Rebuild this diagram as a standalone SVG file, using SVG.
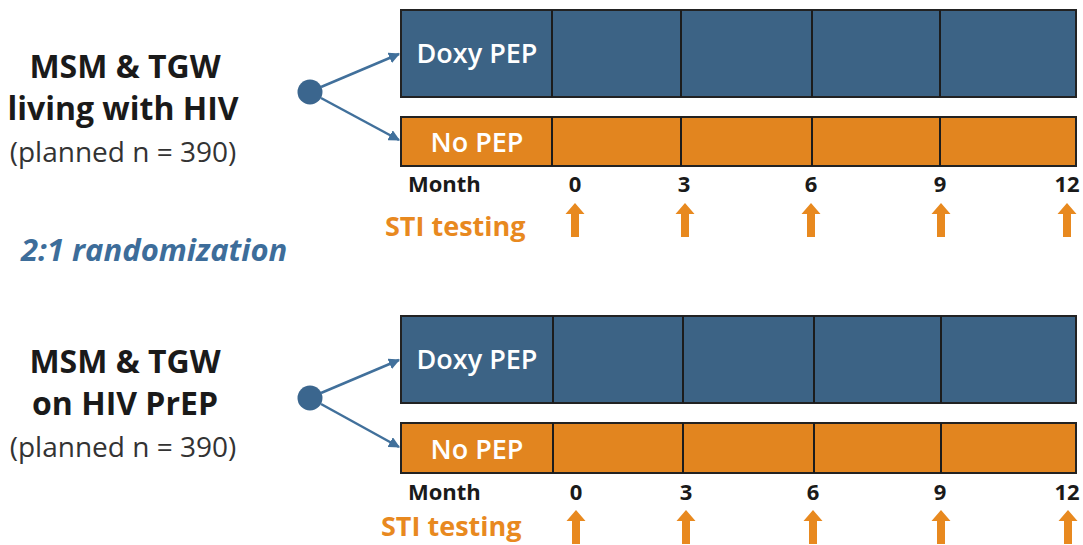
<svg xmlns="http://www.w3.org/2000/svg" width="1083" height="545" viewBox="0 0 1083 545">
  <style>
    .cohort { font-family: "Open Sans", "Liberation Sans", sans-serif; font-weight: 700; font-size: 32px; fill: #1a1a1a; text-anchor: middle; }
    .planned { font-family: "Open Sans", "Liberation Sans", sans-serif; font-weight: 400; font-size: 28px; fill: #333333; text-anchor: middle; }
    .rand { font-family: "Open Sans", "Liberation Sans", sans-serif; font-weight: 700; font-style: italic; font-size: 31px; fill: #3d6d9a; }
    .barlabel { font-family: "Open Sans", "Liberation Sans", sans-serif; font-weight: 600; font-size: 27px; fill: #ffffff; text-anchor: middle; }
    .month { font-family: "Open Sans", "Liberation Sans", sans-serif; font-weight: 700; font-size: 22px; fill: #1a1a1a; }
    .tick { font-family: "Open Sans", "Liberation Sans", sans-serif; font-weight: 700; font-size: 22px; fill: #1a1a1a; text-anchor: middle; }
    .sti { font-family: "Open Sans", "Liberation Sans", sans-serif; font-weight: 700; font-size: 27px; fill: #e8891f; }
    .doxy { fill: #3c6385; stroke: #222222; stroke-width: 2; }
    .nopep { fill: #e2851f; stroke: #222222; stroke-width: 2; }
    .divider { stroke: #1c1c1c; stroke-width: 2; }
    .branch { stroke: #41709b; stroke-width: 2.5; fill: none; marker-end: url(#head); }
    .hub { fill: #3b668e; }
    .test { fill: #e8891f; }
  </style>
  <defs>
    <marker id="head" viewBox="0 0 10 10" refX="9" refY="5" markerWidth="4.5" markerHeight="4.5" orient="auto" markerUnits="strokeWidth">
      <path d="M0,0 L10,5 L0,10 Z" fill="#41709b"/>
    </marker>
    <!-- block arrow marking a testing visit, tip at the origin -->
    <path id="up" d="M0,0 L9.5,11 L4,11 L4,34 L-4,34 L-4,11 L-9.5,11 Z"/>
  </defs>

  <!-- cohort: people living with HIV -->
  <g id="cohort-hiv">
    <text class="cohort" x="125" y="78">MSM &amp; TGW</text>
    <text class="cohort" x="123" y="120">living with HIV</text>
    <text class="planned" x="123" y="162">(planned n = 390)</text>
  </g>
  <g id="hub-hiv"><circle class="hub" cx="310" cy="92" r="12.5"/></g>

  <g id="arm-hiv-doxy">
    <rect class="doxy" x="401" y="10" width="675" height="87"/>
    <line class="divider" x1="552" y1="10" x2="552" y2="97"/>
    <line class="divider" x1="681" y1="10" x2="681" y2="97"/>
    <line class="divider" x1="812" y1="10" x2="812" y2="97"/>
    <line class="divider" x1="940" y1="10" x2="940" y2="97"/>
    <text class="barlabel" x="477" y="63">Doxy PEP</text>
  </g>
  <g id="arm-hiv-nopep">
    <rect class="nopep" x="401" y="117" width="675" height="49"/>
    <line class="divider" x1="552" y1="117" x2="552" y2="166"/>
    <line class="divider" x1="681" y1="117" x2="681" y2="166"/>
    <line class="divider" x1="812" y1="117" x2="812" y2="166"/>
    <line class="divider" x1="940" y1="117" x2="940" y2="166"/>
    <text class="barlabel" x="477" y="152">No PEP</text>
  </g>
  <g id="timeline-hiv">
    <text class="month" x="408" y="192">Month</text>
    <text class="tick" x="575" y="192">0</text>
    <text class="tick" x="684" y="192">3</text>
    <text class="tick" x="811" y="192">6</text>
    <text class="tick" x="940" y="192">9</text>
    <text class="tick" x="1067" y="192">12</text>
    <text class="sti" x="385" y="236">STI testing</text>
    <use href="#up" class="test" x="575" y="203"/>
    <use href="#up" class="test" x="685" y="203"/>
    <use href="#up" class="test" x="811" y="203"/>
    <use href="#up" class="test" x="941" y="203"/>
    <use href="#up" class="test" x="1067" y="203"/>
  </g>

  <g id="randomization">
    <text class="rand" x="21" y="261">2:1 randomization</text>
  </g>

  <!-- cohort: people on PrEP -->
  <g id="cohort-prep">
    <text class="cohort" x="125" y="373">MSM &amp; TGW</text>
    <text class="cohort" x="125" y="415">on HIV PrEP</text>
    <text class="planned" x="123" y="457">(planned n = 390)</text>
  </g>
  <g id="hub-prep"><circle class="hub" cx="310" cy="398" r="12.5"/></g>

  <g id="arm-prep-doxy">
    <rect class="doxy" x="401" y="316" width="675" height="87"/>
    <line class="divider" x1="553" y1="316" x2="553" y2="403"/>
    <line class="divider" x1="683" y1="316" x2="683" y2="403"/>
    <line class="divider" x1="814" y1="316" x2="814" y2="403"/>
    <line class="divider" x1="941" y1="316" x2="941" y2="403"/>
    <text class="barlabel" x="477" y="369">Doxy PEP</text>
  </g>
  <g id="arm-prep-nopep">
    <rect class="nopep" x="401" y="423" width="675" height="50"/>
    <line class="divider" x1="553" y1="423" x2="553" y2="473"/>
    <line class="divider" x1="683" y1="423" x2="683" y2="473"/>
    <line class="divider" x1="814" y1="423" x2="814" y2="473"/>
    <line class="divider" x1="941" y1="423" x2="941" y2="473"/>
    <text class="barlabel" x="477" y="459">No PEP</text>
  </g>
  <g id="timeline-prep">
    <text class="month" x="408" y="500">Month</text>
    <text class="tick" x="576" y="500">0</text>
    <text class="tick" x="686" y="500">3</text>
    <text class="tick" x="813" y="500">6</text>
    <text class="tick" x="940" y="500">9</text>
    <text class="tick" x="1067" y="500">12</text>
    <text class="sti" x="381" y="536">STI testing</text>
    <use href="#up" class="test" x="576" y="510"/>
    <use href="#up" class="test" x="686" y="510"/>
    <use href="#up" class="test" x="813" y="510"/>
    <use href="#up" class="test" x="941" y="510"/>
    <use href="#up" class="test" x="1068" y="510"/>
  </g>

  <!-- branches from each cohort hub to its two arms -->
  <g id="connectors">
    <line class="branch" x1="321" y1="87" x2="399" y2="54"/>
    <line class="branch" x1="321" y1="98" x2="399" y2="140"/>
    <line class="branch" x1="321" y1="393" x2="399" y2="360"/>
    <line class="branch" x1="321" y1="404" x2="399" y2="447"/>
  </g>
</svg>
